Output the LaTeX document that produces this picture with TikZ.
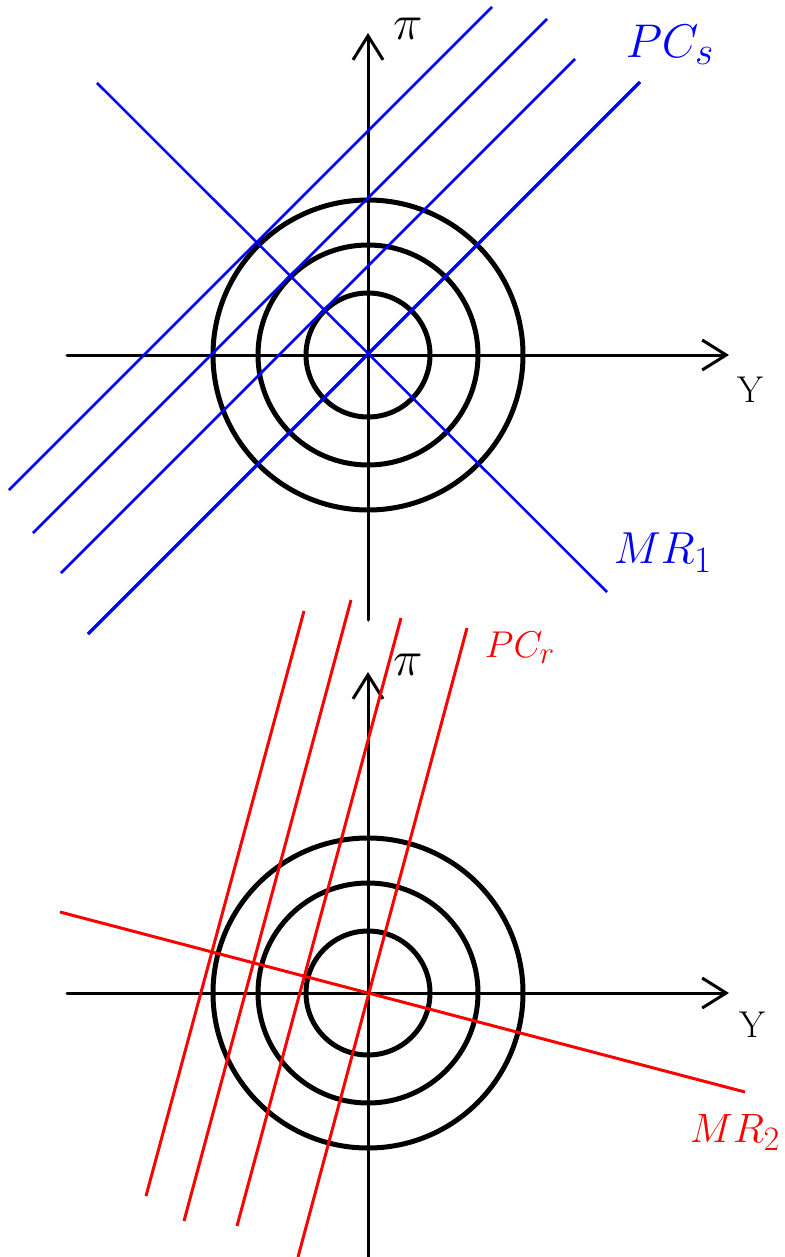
\documentclass[tikz,border=0pt]{standalone}
\usetikzlibrary{arrows.meta}
\begin{document}
\begin{tikzpicture}[x=1pt,y=-1pt,
  axis/.style={line width=3pt, line cap=round, -{Straight Barb[length=24pt,width=30pt,line width=3pt]}},
  ring/.style={line width=5pt},
  bl/.style={blue, line width=2.5pt},
  rd/.style={red, line width=3pt},
  lab/.style={inner sep=0pt, font=\Huge}]
\useasboundingbox (0,0) rectangle (784,1257);

% ---------- top diagram ----------
\coordinate (O1) at (368,355);
\coordinate (X1a) at (67,355);  \coordinate (X1b) at (729,355);
\coordinate (Y1a) at (368,620); \coordinate (Y1b) at (368,33);
\draw[axis] (X1a) -- (X1b);
\draw[axis] (Y1a) -- (Y1b);
\draw[ring] (O1) circle[radius=62pt];
\draw[ring] (O1) circle[radius=110pt];
\draw[ring] (O1) circle[radius=155pt];

\coordinate (A1) at (9,490);   \coordinate (A2) at (492,7);
\coordinate (B1) at (33,533);  \coordinate (B2) at (547,19);
\coordinate (C1) at (61,573);  \coordinate (C2) at (575,59);
\coordinate (D1) at (88,634);  \coordinate (D2) at (640,82);
\coordinate (M1) at (97,83);   \coordinate (M2) at (607,592);
\draw[bl] (A1) -- (A2);
\draw[bl] (B1) -- (B2);
\draw[bl] (C1) -- (C2);
\draw[bl, line width=3.2pt] (D1) -- (D2);
\draw[bl] (M1) -- (M2);

\node[lab, scale=2.0] (pi1) at (408,29) {$\pi$};
\node[lab, scale=1.5] (y1) at (750,390) {Y};
\node[lab, blue, scale=1.9] (pcs) at (670,45) {$PC_s$};
\node[lab, blue, scale=1.8] (mr1) at (663,553) {$MR_1$};

% ---------- bottom diagram ----------
\coordinate (O2) at (368,993);
\coordinate (X2a) at (67,993);  \coordinate (X2b) at (729,993);
\coordinate (Y2a) at (368,1257); \coordinate (Y2b) at (368,672);
\draw[axis] (X2a) -- (X2b);
\draw[axis] (Y2a) -- (Y2b);
\draw[ring] (O2) circle[radius=62pt];
\draw[ring] (O2) circle[radius=110pt];
\draw[ring] (O2) circle[radius=155pt];

\coordinate (R1a) at (146,1196); \coordinate (R1b) at (304,611);
\coordinate (R2a) at (184,1221); \coordinate (R2b) at (351,600);
\coordinate (R3a) at (237,1226); \coordinate (R3b) at (401,618);
\coordinate (R4a) at (298,1257); \coordinate (R4b) at (467,628);
\coordinate (N1) at (60,912);    \coordinate (N2) at (745,1092);
\draw[rd] (R1a) -- (R1b);
\draw[rd] (R2a) -- (R2b);
\draw[rd] (R3a) -- (R3b);
\draw[rd] (R4a) -- (R4b);
\draw[rd] (N1) -- (N2);

\node[lab, scale=2.0] (pi2) at (408,665) {$\pi$};
\node[lab, scale=1.5] (y2) at (752,1025) {Y};
\node[lab, red, scale=1.5] (pcr) at (520,648) {$PC_r$};
\node[lab, red, scale=1.65] (mr2) at (735,1132) {$MR_2$};
\end{tikzpicture}
\end{document}
